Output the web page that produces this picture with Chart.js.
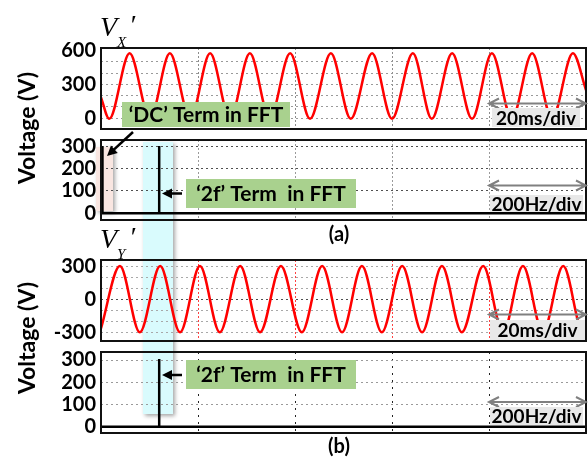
<!DOCTYPE html>
<html>
<head>
<meta charset="utf-8">
<script src="https://cdn.jsdelivr.net/npm/chart.js@4.4.1/dist/chart.umd.min.js"></script>
<style>
  body { margin: 0; background: #fff; }
  #wrap { position: relative; width: 588px; height: 457px; }
  #wrap canvas { position: absolute; left: 0; top: 0; }
</style>
</head>
<body>
<div id="wrap">
  <canvas id="vxTimeChart" width="588" height="457"></canvas>
  <canvas id="vxFftChart" width="588" height="457"></canvas>
  <canvas id="vyTimeChart" width="588" height="457"></canvas>
  <canvas id="vyFftChart" width="588" height="457"></canvas>
</div>
<script>
// Vx' trace: start, then troughs / peaks (ms, V)
const vxTime = [0, 1.7, 5.9, 10.1, 14.2, 18.4, 22.5, 26.6, 30.7, 34.8, 39.0, 43.1, 47.4,
                51.5, 55.9, 60.0, 64.3, 68.2, 72.4, 76.5, 80.6, 84.7, 88.9, 93.0, 97.3, 100];
const vxVolt = [185, -5, 575, -5, 575, -5, 575, -5, 575, -5, 575, -5, 575,
                -5, 575, -5, 575, -5, 575, -5, 575, -5, 575, -5, 575, 250];

// Vy' trace: start, then peaks / troughs
const vyTime = [0, 3.9, 8.0, 12.2, 16.3, 20.4, 24.5, 28.7, 32.8, 37.1, 41.4, 45.6, 49.7,
                53.8, 57.9, 62.1, 66.2, 70.3, 74.4, 78.8, 82.9, 87.0, 91.1, 95.3, 99.4, 100];
const vyVolt = [-265, 305, -300, 305, -300, 305, -300, 305, -300, 305, -300, 305, -300,
                305, -300, 305, -300, 305, -300, 305, -300, 305, -300, 305, -300, -295];

// FFT spectra (Hz, V): DC term + '2f' term
const fftFreqA = [3, 3, 120, 120, 120, 1000];
const fftAmpA = [300, 0, 0, 300, 0, 0];
const fftFreqB = [0, 120, 120, 120, 1000];
const fftAmpB = [0, 0, 305, 0, 0];

// axis ticks
const timeGrid = [20, 40, 60, 80];          // 20 ms/div
const freqGrid = [200, 400, 600, 800];      // 200 Hz/div
const vxTicks = [0, 100, 200, 300, 400, 500, 600];
const vxLabels = [0, 300, 600];
const vyTicks = [-300, -200, -100, 0, 100, 200, 300];
const vyLabels = [-300, 0, 300];
const fftTicks = [0, 100, 200, 300];

const FONT = 'Lato, "Open Sans", sans-serif';
Chart.defaults.font.family = FONT;

const toPts = (xs, ys) => xs.map((x, i) => ({ x: x, y: ys[i] }));

const frame = {
  id: 'frame',
  afterDraw(chart) {
    const a = chart.chartArea, ctx = chart.ctx;
    ctx.save();
    ctx.lineWidth = 2;
    ctx.strokeStyle = '#111';
    ctx.strokeRect(a.left, a.top, a.right - a.left, a.bottom - a.top);
    ctx.restore();
  }
};

function shadowRect(ctx, x, y, w, h, fill) {
  ctx.save();
  ctx.shadowColor = 'rgba(0,0,0,0.35)';
  ctx.shadowBlur = 4;
  ctx.shadowOffsetX = 2;
  ctx.shadowOffsetY = 2;
  ctx.fillStyle = fill;
  ctx.fillRect(x, y, w, h);
  ctx.restore();
}

// highlight boxes behind every trace
const underlay = {
  id: 'underlay',
  beforeDraw(chart) {
    const ctx = chart.ctx;
    shadowRect(ctx, 96, 147, 17, 64, '#f9e6e1');
    shadowRect(ctx, 143, 142, 30, 272, '#d9fbfd');
  }
};

function arrow(ctx, x1, y1, x2, y2) {
  const ang = Math.atan2(y2 - y1, x2 - x1);
  ctx.save();
  ctx.strokeStyle = '#000';
  ctx.fillStyle = '#000';
  ctx.lineWidth = 2.5;
  ctx.beginPath();
  ctx.moveTo(x1, y1);
  ctx.lineTo(x2 - 6 * Math.cos(ang), y2 - 6 * Math.sin(ang));
  ctx.stroke();
  ctx.translate(x2, y2);
  ctx.rotate(ang);
  ctx.beginPath();
  ctx.moveTo(0, 0);
  ctx.lineTo(-10, -5);
  ctx.lineTo(-10, 5);
  ctx.closePath();
  ctx.fill();
  ctx.restore();
}

function divArrow(ctx, x1, x2, y) {
  ctx.save();
  ctx.strokeStyle = '#808080';
  ctx.lineWidth = 2;
  ctx.beginPath();
  ctx.moveTo(x1, y); ctx.lineTo(x2, y);
  ctx.moveTo(x1 + 10, y - 5); ctx.lineTo(x1, y); ctx.lineTo(x1 + 10, y + 5);
  ctx.moveTo(x2 - 10, y - 5); ctx.lineTo(x2, y); ctx.lineTo(x2 - 10, y + 5);
  ctx.stroke();
  ctx.restore();
}

function boxText(ctx, text, x, y, w, h, fill, size) {
  ctx.save();
  ctx.fillStyle = fill;
  ctx.fillRect(x, y, w, h);
  ctx.fillStyle = '#000';
  ctx.font = 'bold ' + size + 'px ' + FONT;
  ctx.textAlign = 'center';
  ctx.textBaseline = 'middle';
  ctx.fillText(text, x + w / 2, y + h / 2 + 1);
  ctx.restore();
}

function title(ctx, sub, y) {
  ctx.save();
  ctx.fillStyle = '#000';
  ctx.textBaseline = 'alphabetic';
  ctx.font = 'italic 28px "Liberation Serif", serif';
  ctx.fillText('V', 100, y);
  ctx.font = 'italic 15px "Liberation Serif", serif';
  ctx.fillText(sub, 117, y + 11);
  ctx.font = 'italic 28px "Liberation Serif", serif';
  ctx.fillText('\u2032', 129, y - 2);
  ctx.restore();
}

const overlay = {
  id: 'overlay',
  afterDraw(chart) {
    const ctx = chart.ctx;
    title(ctx, 'X', 36);
    title(ctx, 'Y', 248);

    ctx.save();
    ctx.fillStyle = '#000';
    ctx.font = 'bold 23px ' + FONT;
    ctx.textAlign = 'center';
    ctx.textBaseline = 'middle';
    [128, 338].forEach(cy => {
      ctx.save();
      ctx.translate(28, cy);
      ctx.rotate(-Math.PI / 2);
      ctx.fillText('Voltage (V)', 0, 0);
      ctx.restore();
    });
    ctx.font = 'bold 20px ' + FONT;
    ctx.fillText('(a)', 339, 235);
    ctx.fillText('(b)', 339, 447);
    ctx.restore();

    // scale annotations
    divArrow(ctx, 489, 586, 103.5);
    boxText(ctx, '20ms/div', 492, 108, 88, 19, '#e8e8e8', 19);
    divArrow(ctx, 489, 586, 185.5);
    boxText(ctx, '200Hz/div', 490, 195, 93, 17, '#e8e8e8', 19);
    divArrow(ctx, 489, 586, 314.5);
    boxText(ctx, '20ms/div', 490, 320, 95, 20, '#e8e8e8', 19);
    divArrow(ctx, 489, 586, 402);
    boxText(ctx, '200Hz/div', 490, 407, 93, 18, '#e8e8e8', 19);

    // FFT call-outs
    boxText(ctx, '\u2018DC\u2019 Term in FFT', 122, 102, 168, 25, '#a9d18e', 21);
    arrow(ctx, 133, 132, 107, 156);
    boxText(ctx, '\u20182f\u2019 Term  in FFT', 186, 179, 170, 29, '#a9d18e', 21);
    arrow(ctx, 182, 193.5, 162, 193.5);
    boxText(ctx, '\u20182f\u2019 Term  in FFT', 186, 360, 170, 29, '#a9d18e', 21);
    arrow(ctx, 182, 375, 162, 375);
  }
};

function scopeChart(id, o, extra) {
  return new Chart(document.getElementById(id), {
    type: 'line',
    data: {
      datasets: [{
        data: o.points,
        borderColor: o.lineColor,
        borderWidth: o.lineWidth,
        pointRadius: 0,
        cubicInterpolationMode: o.smooth ? 'monotone' : 'default',
        tension: 0,
        fill: false
      }]
    },
    options: {
      responsive: false,
      animation: false,
      events: [],
      layout: { padding: { top: o.top, bottom: 457 - o.bottom, left: 0, right: 2 } },
      plugins: { legend: { display: false }, tooltip: { enabled: false } },
      scales: {
        x: {
          type: 'linear',
          min: o.xMin,
          max: o.xMax,
          afterBuildTicks: s => { s.ticks = o.xGrid.map(v => ({ value: v })); },
          afterFit: s => { s.height = 0; },
          ticks: { display: false, autoSkip: false },
          grid: { color: o.xGridColor, drawTicks: false, lineWidth: 1 },
          border: { display: false, dash: o.xDash }
        },
        y: {
          min: o.yMin,
          max: o.yMax,
          afterBuildTicks: s => { s.ticks = o.yTicks.map(v => ({ value: v })); },
          afterFit: s => { s.width = 101; },
          ticks: {
            color: '#000',
            padding: 5,
            autoSkip: false,
            font: { size: 20, weight: 'bold' },
            callback: v => o.yLabels.includes(v) ? String(v) : ''
          },
          grid: { color: o.yGridColor, drawTicks: false, lineWidth: 1 },
          border: { display: false, dash: o.yDash }
        }
      }
    },
    plugins: [frame].concat(extra)
  });
}

scopeChart('vxTimeChart', {
  points: toPts(vxTime, vxVolt), lineColor: '#ff0000', lineWidth: 2.5, smooth: true,
  top: 48, bottom: 129, xMin: 0, xMax: 100, xGrid: timeGrid,
  yMin: -94.5, yMax: 621, yTicks: vxTicks, yLabels: vxLabels,
  xGridColor: '#8c8c8c', xDash: [2, 2],
  yGridColor: c => c.tick && c.tick.value === 600 ? 'rgba(0,0,0,0)' : '#9a9a9a', yDash: [2, 3]
}, [underlay]);

scopeChart('vxFftChart', {
  points: toPts(fftFreqA, fftAmpA), lineColor: '#000', lineWidth: 2.5, smooth: false,
  top: 140, bottom: 220, xMin: 0, xMax: 1000, xGrid: freqGrid,
  yMin: -30, yMax: 327, yTicks: fftTicks, yLabels: fftTicks,
  xGridColor: '#9a9a9a', xDash: [2, 2],
  yGridColor: '#505050', yDash: [2, 3]
}, []);

scopeChart('vyTimeChart', {
  points: toPts(vyTime, vyVolt), lineColor: '#ff0000', lineWidth: 2.5, smooth: true,
  top: 260, bottom: 341, xMin: 0, xMax: 100, xGrid: timeGrid,
  yMin: -380, yMax: 360, yTicks: vyTicks, yLabels: vyLabels,
  xGridColor: '#ff4040', xDash: [2, 2],
  yGridColor: c => c.tick && c.tick.value === 0 ? '#505050' : '#a8a8a8', yDash: [2, 3]
}, []);

scopeChart('vyFftChart', {
  points: toPts(fftFreqB, fftAmpB), lineColor: '#000', lineWidth: 2.5, smooth: false,
  top: 352, bottom: 433, xMin: 0, xMax: 1000, xGrid: freqGrid,
  yMin: -28, yMax: 336, yTicks: fftTicks, yLabels: fftTicks,
  xGridColor: '#222', xDash: [2, 5],
  yGridColor: '#9a9a9a', yDash: [2, 3]
}, [overlay]);
</script>
</body>
</html>
